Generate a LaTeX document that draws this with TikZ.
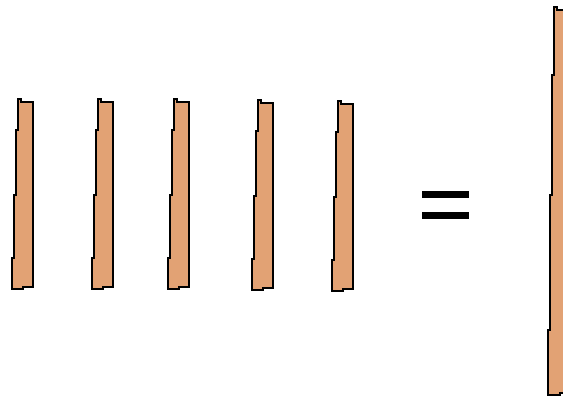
\documentclass[tikz,border=0pt]{standalone}
\definecolor{wood}{RGB}{226,162,116}
\tikzset{stickfill/.style={fill=wood,draw=black,line width=1.3pt,line join=miter},
  eqbar/.style={fill=black,draw=none}}
\begin{document}
\begin{tikzpicture}[x=1pt,y=-1pt]
\useasboundingbox (0,0) rectangle (563,401);
\clip (0,0) rectangle (563,401);
\foreach \sx/\sy [count=\i] in {18/99,98/99,174/99,258/100,338/101}{
  \draw[stickfill,shift={(\sx,\sy)}] (0,0) -- (3,0) -- (3,3) -- (15,3) -- (15,188) -- (5,188) -- (5,190)
    -- (-6,190) -- (-6,159) -- (-4,159) -- (-4,96) -- (-2,96) -- (-2,31) -- (0,31) -- cycle;
}
\node[eqbar,minimum width=47pt,minimum height=7pt,inner sep=0pt] (eqtop) at (445.5,194.5) {};
\node[eqbar,minimum width=47pt,minimum height=7pt,inner sep=0pt] (eqbot) at (445.5,215.5) {};
\draw[stickfill] (554,7) -- (557,7) -- (557,10) -- (572,10) -- (572,393) -- (560,393) -- (560,395)
  -- (548,395) -- (548,330) -- (550,330) -- (550,195) -- (552,195) -- (552,75) -- (554,75) -- cycle;
\end{tikzpicture}
\end{document}
